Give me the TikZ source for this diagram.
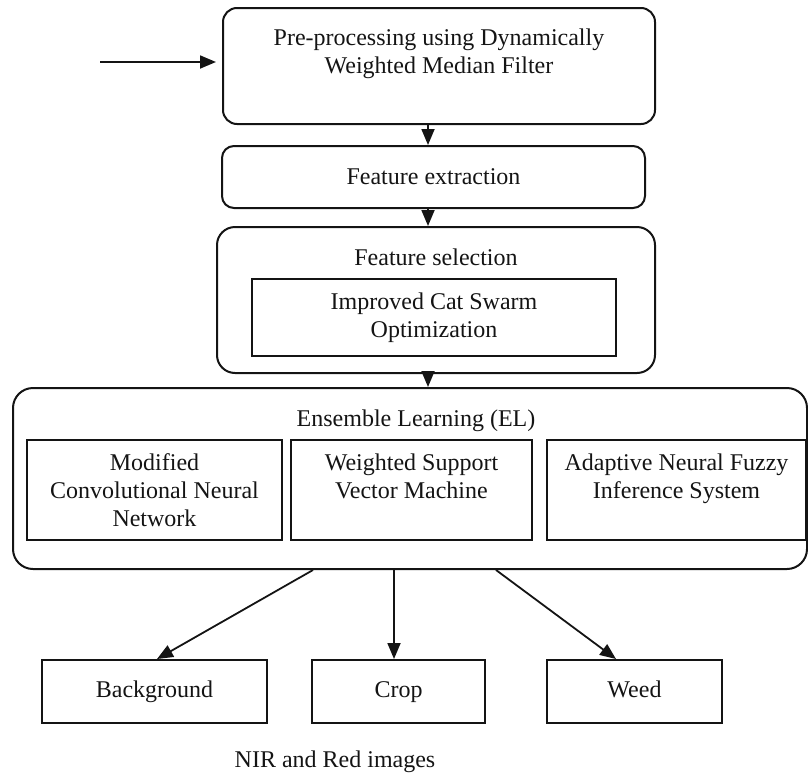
\documentclass[tikz,border=0pt]{standalone}
\usepackage{fontspec}
\setmainfont{Liberation Serif}
\usepackage{tikz}
\usetikzlibrary{arrows.meta,calc}
\definecolor{flowblack}{RGB}{20, 20, 20}

\begin{document}
\begin{tikzpicture}[x=0.5pt, y=-0.5pt,
  every node/.style={font=\fontsize{12}{14}\selectfont, text=flowblack},
  rbox/.style={draw=flowblack, line width=1pt, align=center, inner sep=0pt},
  sbox/.style={draw=flowblack, line width=1pt, align=center, inner sep=0pt},
  classbox/.style={sbox, minimum height=31.5pt, text height=8.5pt, text depth=3pt},
  arr/.style={draw=flowblack, line width=0.9pt, -{Triangle[length=8pt, width=6.5pt]}}]
\useasboundingbox (0,0) rectangle (808,777);

% Pre-processing and feature stages
\node[rbox, rounded corners=7pt, minimum width=216pt, minimum height=58pt] (pre) at (439,66)
  {Pre-processing using Dynamically\\Weighted Median Filter\\[1pt]~};
\node[rbox, rounded corners=6pt, minimum width=211.5pt, minimum height=31pt] (fe) at (433.5,177) {Feature extraction};
\node[rbox, rounded corners=9pt, minimum width=219pt, minimum height=73pt] (fs) at (436,300) {};
\node (fstitle) at (436,257) {Feature selection};
\node[sbox, minimum width=182pt, minimum height=38.5pt] (ics) at (434,317.5) {Improved Cat Swarm\\Optimization};

% Ensemble learning
\node[rbox, rounded corners=10pt, minimum width=397pt, minimum height=90.5pt] (el) at (410,478.5) {};
\node (eltitle) at (416,421) {Ensemble Learning (EL)};
\node[sbox, minimum width=127.5pt, minimum height=50pt] (mcnn) at (154.5,490) {Modified\\Convolutional Neural\\Network};
\node[sbox, minimum width=120.5pt, minimum height=50pt] (wsvm) at (411.5,490) {Weighted Support\\Vector Machine\\~};
\node[sbox, minimum width=129.5pt, minimum height=50pt] (anfis) at (676.5,490) {Adaptive Neural Fuzzy\\Inference System\\~};

% Classes
\node[classbox, minimum width=112.5pt] (bg) at (154.5,691.5) {Background};
\node[classbox, minimum width=86.5pt] (crop) at (398.5,691.5) {Crop};
\node[classbox, minimum width=87.5pt] (weed) at (634.5,691.5) {Weed};
\node (nir) at (335,762) {NIR and Red images};

% Arrows
\coordinate (inp) at (100,62);
\coordinate (axis) at (428,0);
\draw[arr, shorten >=3pt] (inp) -- (inp -| pre.west);
\draw[arr] (pre.south -| axis) -- (fe.north -| axis);
\draw[arr] (fe.south -| axis) -- (fs.north -| axis);
\draw[arr] (fs.south -| axis) -- (el.north -| axis);
\draw[arr] (el.south -| 313,0) -- (bg.north -| 157,0);
\draw[arr] (el.south -| 394,0) -- (crop.north -| 394,0);
\draw[arr] (el.south -| 496,0) -- (weed.north -| 616,0);
\end{tikzpicture}
\end{document}
